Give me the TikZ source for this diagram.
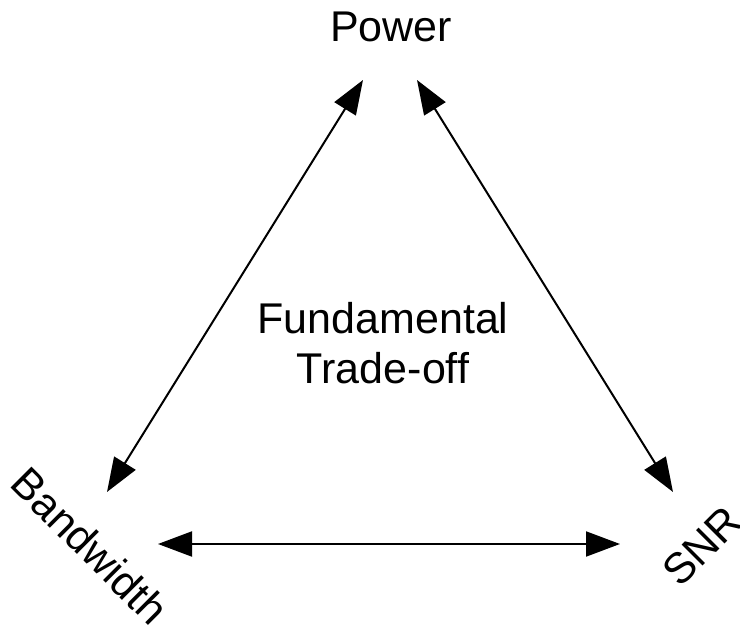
\documentclass[tikz,border=0pt]{standalone}
\usepackage{fontspec}
\setmainfont{Liberation Sans}
\usetikzlibrary{arrows.meta}
\begin{document}
\begin{tikzpicture}[x=1pt,y=-1pt,
  lbl/.style={font=\fontsize{43}{50}\selectfont, inner sep=0pt, align=center},
  dbl/.style={line width=2pt, {Triangle[length=34pt,width=25pt]}-{Triangle[length=34pt,width=25pt]}}]
\useasboundingbox (0,0) rectangle (740,628);
\node[lbl] (power) at (391,27) {Power};
\node[lbl, rotate=-45] (bw) at (90,546) {Bandwidth};
\node[lbl, rotate=45] (snr) at (702,546) {SNR};
\node[lbl] (center) at (383,343) {Fundamental\\Trade-off};
\coordinate (pl) at (363,80);
\coordinate (pr) at (417,80);
\coordinate (bt) at (107,492);
\coordinate (st) at (673,492);
\coordinate (bh) at (158,544);
\coordinate (sh) at (620,544);
\draw[dbl] (pl) -- (bt);
\draw[dbl] (pr) -- (st);
\draw[dbl] (bh) -- (sh);
\end{tikzpicture}
\end{document}
